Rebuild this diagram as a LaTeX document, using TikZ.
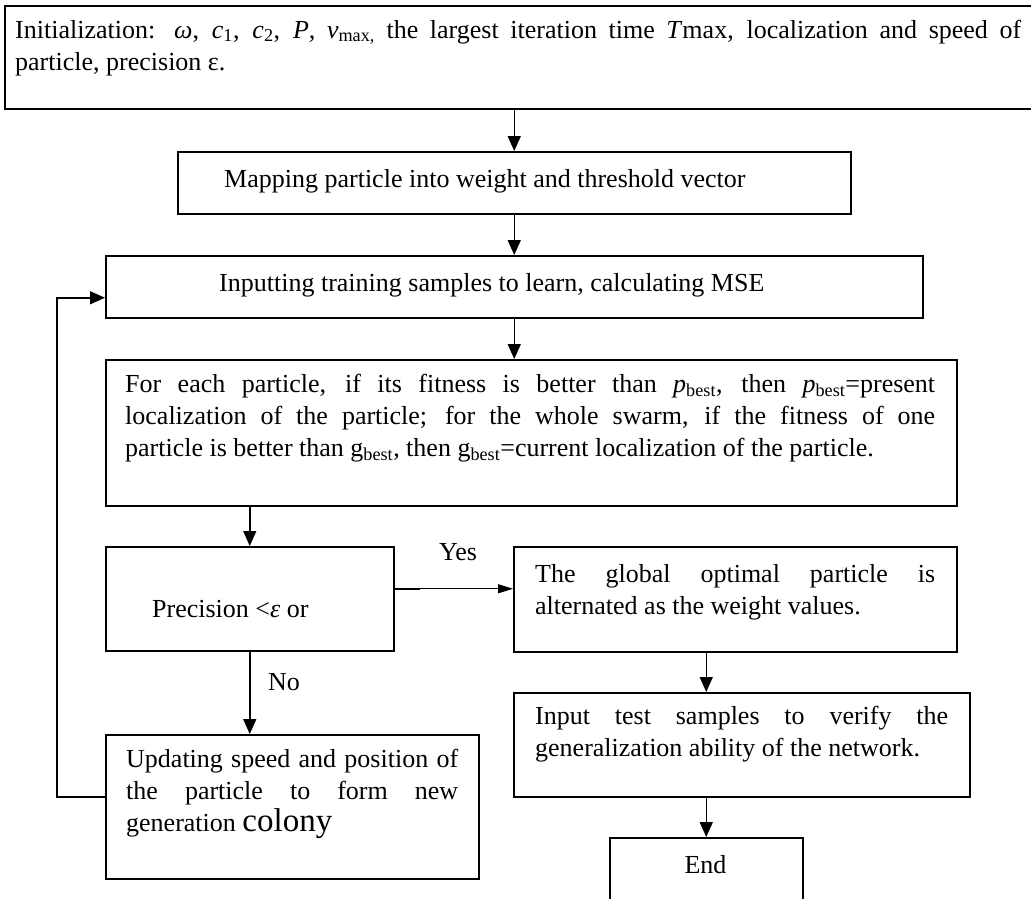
\documentclass[tikz,border=0pt]{standalone}
\usepackage{fontspec}
\setmainfont{Liberation Serif}
\usetikzlibrary{arrows.meta}
\begin{document}
\begin{tikzpicture}[x=1pt,y=-1pt,
  box/.style={draw,line width=1.5pt,inner sep=0pt,anchor=north west},
  txt/.style={inner sep=0pt,anchor=base west,align=justify,font=\fontsize{26}{32}\selectfont},
  lbl/.style={inner sep=0pt,font=\fontsize{26}{32}\selectfont},
  arr/.style={line width=1.5pt,-{Triangle[length=15pt,width=13pt]}},
  thinarr/.style={line width=0.9pt,-{Triangle[length=15pt,width=9pt]}}]
\useasboundingbox (0,0) rectangle (1031,898);
% boxes
\node[box,minimum width=1040pt,minimum height=103pt] (init) at (4,5) {};
\node[box,minimum width=673pt,minimum height=62pt] (map) at (177,151) {};
\node[box,minimum width=817pt,minimum height=62pt] (inp) at (105,255) {};
\node[box,minimum width=851pt,minimum height=146pt] (fe) at (105,359) {};
\node[box,minimum width=288pt,minimum height=104pt] (prec) at (105,546) {};
\node[box,minimum width=443pt,minimum height=105pt] (glob) at (513,546) {};
\node[box,minimum width=456pt,minimum height=104pt] (test) at (513,692) {};
\node[box,minimum width=373pt,minimum height=144pt] (upd) at (105,734) {};
\node[box,minimum width=193pt,minimum height=80pt] (endb) at (609,837) {};
% texts
\node[txt,text width=1006pt] (initT) at (15,38) {Initialization: \textit{ω}, \textit{c}\textsubscript{1}, \textit{c}\textsubscript{2}, \textit{P}, \textit{v}\textsubscript{max,} the largest iteration time \textit{T}max, localization and speed of\linebreak particle, precision ε.};
\node[txt] (mapT) at (224,187) {Mapping particle into weight and threshold vector};
\node[txt] (inpT) at (219,291) {Inputting training samples to learn, calculating MSE};
\node[txt,text width=810pt] (feT) at (125,392) {For each particle, if its fitness is better than \textit{p}\textsubscript{best}, then \textit{p}\textsubscript{best}=present\linebreak localization of the particle; for the whole swarm, if the fitness of one\linebreak particle is better than g\textsubscript{best}, then g\textsubscript{best}=current localization of the particle.};
\node[txt] (precT) at (152,617) {Precision <\textit{ε} or};
\node[txt,text width=400pt] (globT) at (535,582) {The global optimal particle is\linebreak alternated as the weight values.};
\node[txt,text width=413pt] (testT) at (535,724) {Input test samples to verify the\linebreak generalization ability of the network.};
\node[txt,text width=332pt] (updT) at (126,767) {Updating speed and position of\linebreak the particle to form new\linebreak generation {\fontsize{33}{33}\selectfont colony}};
\node[lbl,anchor=base] (endT) at (705.5,873) {End};
\node[lbl,anchor=base] (yes) at (458,560) {Yes};
\node[lbl,anchor=base west] (no) at (268,690) {No};
% connectors
\draw[arr] (map.north |- init.south) -- (map.north);
\draw[arr] (map.south) -- (map.south |- inp.north);
\draw[arr] (map.south |- inp.south) -- (map.south |- fe.north);
\draw[arr] (prec.north |- fe.south) -- (prec.north);
\draw[thinarr] ([yshift=10pt]prec.east) -- ([yshift=10pt]prec.east -| glob.west);
\draw[line width=1.5pt] ([yshift=10pt]prec.east) -- ++(25,0);
\draw[arr] (prec.south) -- (prec.south |- upd.north);
\draw[arr] (endb.north |- glob.south) -- (endb.north |- test.north);
\draw[arr] (endb.north |- test.south) -- (endb.north);
\draw[arr] ([yshift=10pt]upd.west) -- ++(-48,0) |- ([yshift=-11pt]inp.west);
\end{tikzpicture}
\end{document}
